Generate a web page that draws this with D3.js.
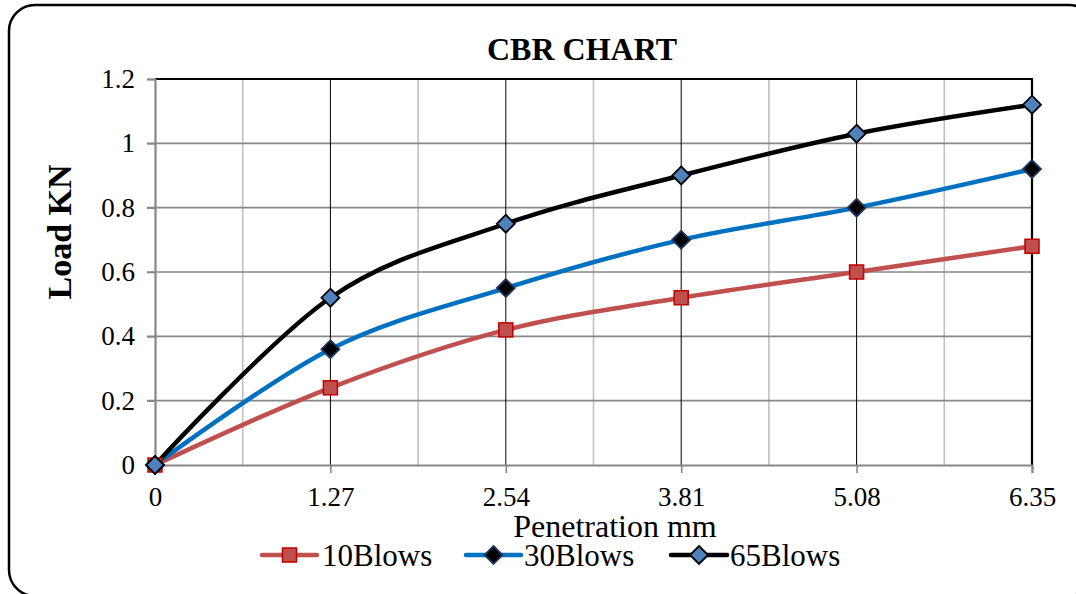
<!DOCTYPE html>
<html><head><meta charset="utf-8">
<script src="https://cdn.jsdelivr.net/npm/d3@7"></script>
<style>html,body{margin:0;padding:0;background:#fff;}svg{display:block;font-family:"Liberation Serif","Times New Roman",serif;}</style>
</head><body>
<svg id="c" width="1076" height="594"></svg>
<script>
const penetration = [0, 1.27, 2.54, 3.81, 5.08, 6.35];
const blows10 = [0, 0.24, 0.42, 0.52, 0.60, 0.68];
const blows30 = [0, 0.36, 0.55, 0.70, 0.80, 0.92];
const blows65 = [0, 0.52, 0.75, 0.90, 1.03, 1.12];
const seriesNames = ["10Blows", "30Blows", "65Blows"];
const yTicks = [0, 0.2, 0.4, 0.6, 0.8, 1, 1.2];
const xTickLabels = ["0", "1.27", "2.54", "3.81", "5.08", "6.35"];

const svg = d3.select("#c");
// outer rounded border
svg.append("rect").attr("x", 9).attr("y", 5).attr("width", 1086).attr("height", 591)
  .attr("rx", 26).attr("ry", 26).attr("fill", "#fff").attr("stroke", "#000").attr("stroke-width", 2.5);

const L = 155, R = 1032, T = 79, B = 465;
const x = d3.scaleLinear().domain([0, 6.35]).range([L, R]);
const y = d3.scaleLinear().domain([0, 1.2]).range([B, T]);

const g = svg.append("g");
// minor vertical gridlines
const minor = d3.range(0, 5).map(i => penetration[i] + 0.635);
g.selectAll(".vmin").data(minor).enter().append("line")
  .attr("x1", d => x(d)).attr("x2", d => x(d)).attr("y1", T).attr("y2", B)
  .attr("stroke", "#c0c0c0").attr("stroke-width", 1.6);
// horizontal gridlines
g.selectAll(".hg").data(yTicks.filter(d => d > 0 && d < 1.2)).enter().append("line")
  .attr("x1", L - 8).attr("x2", R).attr("y1", d => y(d)).attr("y2", d => y(d))
  .attr("stroke", "#878787").attr("stroke-width", 1.6);
// major vertical gridlines
g.selectAll(".vmaj").data(penetration.slice(1, 5)).enter().append("line")
  .attr("x1", d => x(d)).attr("x2", d => x(d)).attr("y1", T).attr("y2", B)
  .attr("stroke", "#000").attr("stroke-width", 1);
// top and right border
g.append("line").attr("x1", L).attr("x2", R + 1).attr("y1", T).attr("y2", T).attr("stroke", "#000").attr("stroke-width", 1.8);
g.append("line").attr("x1", R).attr("x2", R).attr("y1", T).attr("y2", B).attr("stroke", "#000").attr("stroke-width", 2.2);

// axes
const yAxis = d3.axisLeft(y).tickValues(yTicks).tickFormat(d => d3.format("")(+d.toFixed(1))).tickSize(8).tickPadding(12);
const ya = svg.append("g").attr("transform", `translate(${L},0)`).call(yAxis);
ya.select(".domain").attr("stroke", "#878787").attr("stroke-width", 2.2);
ya.selectAll(".tick line").attr("stroke", "#878787").attr("stroke-width", 1.6);
ya.selectAll("text").attr("font-size", 27).attr("fill", "#000").attr("font-family", "Liberation Serif");

const xAxis = d3.axisBottom(x).tickValues(penetration).tickFormat((d, i) => xTickLabels[i]).tickSize(8).tickPadding(14);
const xa = svg.append("g").attr("transform", `translate(0,${B})`).call(xAxis);
xa.select(".domain").attr("stroke", "#878787").attr("stroke-width", 2.2);
xa.selectAll(".tick line").attr("stroke", "#878787").attr("stroke-width", 1.6);
xa.selectAll("text").attr("font-size", 27).attr("fill", "#000").attr("font-family", "Liberation Serif");

// series
const series = [
  {name: seriesNames[0], vals: blows10, line: "#C0504D", fill: "#C0504D", stroke: "#C00000", shape: "square"},
  {name: seriesNames[1], vals: blows30, line: "#0070C0", fill: "#000000", stroke: "#1F3864", shape: "diamond"},
  {name: seriesNames[2], vals: blows65, line: "#000000", fill: "#4F81BD", stroke: "#000000", shape: "diamond"}
];
const lineGen = d3.line().x(d => x(d[0])).y(d => y(d[1])).curve(d3.curveCatmullRom.alpha(0));
function marker(sel, s, cx, cy) {
  if (s.shape === "square") {
    sel.append("rect").attr("x", cx - 7).attr("y", cy - 7).attr("width", 14).attr("height", 14)
      .attr("fill", s.fill).attr("stroke", s.stroke).attr("stroke-width", 1.5);
  } else {
    const r = 9;
    sel.append("path").attr("d", `M${cx},${cy - r}L${cx + r},${cy}L${cx},${cy + r}L${cx - r},${cy}Z`)
      .attr("fill", s.fill).attr("stroke", s.stroke).attr("stroke-width", 1.8);
  }
}
series.forEach(s => {
  const pts = penetration.map((p, i) => [p, s.vals[i]]);
  svg.append("path").attr("d", lineGen(pts)).attr("fill", "none").attr("stroke", s.line).attr("stroke-width", 4.5);
});
series.forEach(s => {
  const mg = svg.append("g");
  penetration.forEach((p, i) => marker(mg, s, x(p), y(s.vals[i])));
});

// titles
svg.append("text").attr("x", 582).attr("y", 60).attr("text-anchor", "middle").attr("font-size", 32)
  .attr("font-weight", "bold").text("CBR CHART");
svg.append("text").attr("x", 615).attr("y", 537).attr("text-anchor", "middle").attr("font-size", 32)
  .text("Penetration mm");
svg.append("text").attr("transform", "translate(71,232) rotate(-90)").attr("text-anchor", "middle")
  .attr("font-size", 34).attr("font-weight", "bold").text("Load KN");

// legend
const legendPos = [{x1: 262, x2: 317, tx: 322}, {x1: 466, x2: 521, tx: 524}, {x1: 671, x2: 727, tx: 730}];
const ly = 555;
series.forEach((s, i) => {
  const lp = legendPos[i];
  svg.append("line").attr("x1", lp.x1).attr("x2", lp.x2).attr("y1", ly).attr("y2", ly)
    .attr("stroke", s.line).attr("stroke-width", 4.5).attr("stroke-linecap", "round");
  marker(svg, s, (lp.x1 + lp.x2) / 2, ly);
  svg.append("text").attr("x", lp.tx).attr("y", 566).attr("font-size", 31).text(s.name);
});
</script>
</body></html>
